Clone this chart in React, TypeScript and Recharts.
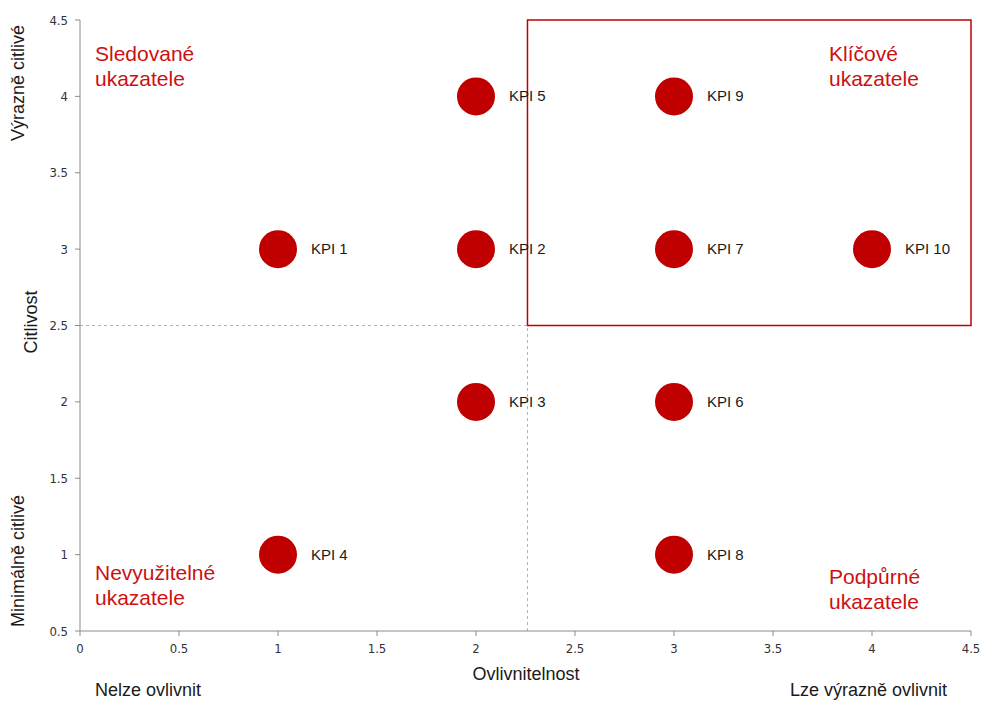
import { ScatterChart, Scatter, XAxis, YAxis, ReferenceArea, ReferenceLine } from 'recharts';

// KPI positions: ovlivnitelnost (x) vs. citlivost (y)
const KPI_NAMES = ['KPI 1', 'KPI 2', 'KPI 3', 'KPI 4', 'KPI 5', 'KPI 6', 'KPI 7', 'KPI 8', 'KPI 9', 'KPI 10'];
const KPI_X = [1, 2, 2, 1, 2, 3, 3, 3, 3, 4];
const KPI_Y = [3, 3, 2, 1, 4, 2, 3, 1, 4, 3];

const AXIS_TICKS = [0, 0.5, 1, 1.5, 2, 2.5, 3, 3.5, 4, 4.5];
const Y_TICKS = [0.5, 1, 1.5, 2, 2.5, 3, 3.5, 4, 4.5];

// quadrant split
const SPLIT_X = 2.26;
const SPLIT_Y = 2.5;

const RED = '#C00000';
const LABEL_RED = '#CC1111';
const AXIS_GRAY = '#8c8c8c';
const TICK_FONT = '"Liberation Sans Narrow", "DejaVu Sans Condensed", "Liberation Sans", sans-serif';
const FONT = '"Liberation Sans", Arial, sans-serif';

const data = KPI_NAMES.map((name, i) => ({ name, x: KPI_X[i], y: KPI_Y[i] }));

function KpiDot(props: any) {
  const { cx, cy, payload } = props;
  if (cx == null || cy == null) return null;
  return (
    <g>
      <circle cx={cx} cy={cy} r={19} fill={RED} />
      <text x={cx + 33} y={cy + 5} fontSize={15} fontFamily={FONT} fill="#1a1a1a">
        {payload.name}
      </text>
    </g>
  );
}

const quadStyle: React.CSSProperties = {
  position: 'absolute',
  color: LABEL_RED,
  fontFamily: FONT,
  fontSize: 21,
  lineHeight: '25px',
};

const sideStyle: React.CSSProperties = {
  position: 'absolute',
  color: '#1a1a1a',
  fontFamily: FONT,
  fontSize: 18,
  whiteSpace: 'nowrap',
};

function VerticalLabel({ text, cx, cy }: { text: string; cx: number; cy: number }) {
  return (
    <div
      style={{
        ...sideStyle,
        left: cx,
        top: cy,
        transform: 'translate(-50%, -50%) rotate(-90deg)',
      }}
    >
      {text}
    </div>
  );
}

export default function App() {
  return (
    <div style={{ position: 'absolute', left: 0, top: 0, width: 984, height: 702, background: '#fff' }}>
      <ScatterChart width={984} height={702} margin={{ top: 20, right: 13, bottom: 41, left: 40 }}>
        <XAxis
          type="number"
          dataKey="x"
          domain={[0, 4.5]}
          ticks={AXIS_TICKS}
          interval={0}
          height={30}
          stroke={AXIS_GRAY}
          tickSize={5}
          tickMargin={8}
          tick={{ fontSize: 13, fill: '#333', fontFamily: TICK_FONT }}
        />
        <YAxis
          type="number"
          dataKey="y"
          domain={[0.5, 4.5]}
          ticks={Y_TICKS}
          interval={0}
          width={40}
          stroke={AXIS_GRAY}
          tickSize={5}
          tickMargin={7}
          tick={{ fontSize: 13, fill: '#333', fontFamily: TICK_FONT }}
        />
        <ReferenceLine
          segment={[{ x: SPLIT_X, y: 0.5 }, { x: SPLIT_X, y: SPLIT_Y }]}
          stroke="#b3b3b3"
          strokeDasharray="3 3"
        />
        <ReferenceLine
          segment={[{ x: 0, y: SPLIT_Y }, { x: SPLIT_X, y: SPLIT_Y }]}
          stroke="#b3b3b3"
          strokeDasharray="3 3"
        />
        <ReferenceArea
          x1={SPLIT_X}
          x2={4.5}
          y1={SPLIT_Y}
          y2={4.5}
          fill="none"
          stroke={RED}
          strokeWidth={1.5}
          fillOpacity={0}
          ifOverflow="visible"
        />
        <Scatter data={data} shape={KpiDot} isAnimationActive={false} />
      </ScatterChart>

      <div style={{ ...quadStyle, left: 95, top: 41 }}>Sledované<br />ukazatele</div>
      <div style={{ ...quadStyle, left: 829, top: 41 }}>Klíčové<br />ukazatele</div>
      <div style={{ ...quadStyle, left: 95, top: 560 }}>Nevyužitelné<br />ukazatele</div>
      <div style={{ ...quadStyle, left: 829, top: 564 }}>Podpůrné<br />ukazatele</div>

      <div style={{ ...sideStyle, left: 526, top: 664, transform: 'translateX(-50%)' }}>Ovlivnitelnost</div>
      <div style={{ ...sideStyle, left: 95, top: 680 }}>Nelze ovlivnit</div>
      <div style={{ ...sideStyle, left: 790, top: 680 }}>Lze výrazně ovlivnit</div>

      <VerticalLabel text="Výrazně citlivé" cx={18} cy={83} />
      <VerticalLabel text="Citlivost" cx={31} cy={322} />
      <VerticalLabel text="Minimálně citlivé" cx={18} cy={561} />
    </div>
  );
}
